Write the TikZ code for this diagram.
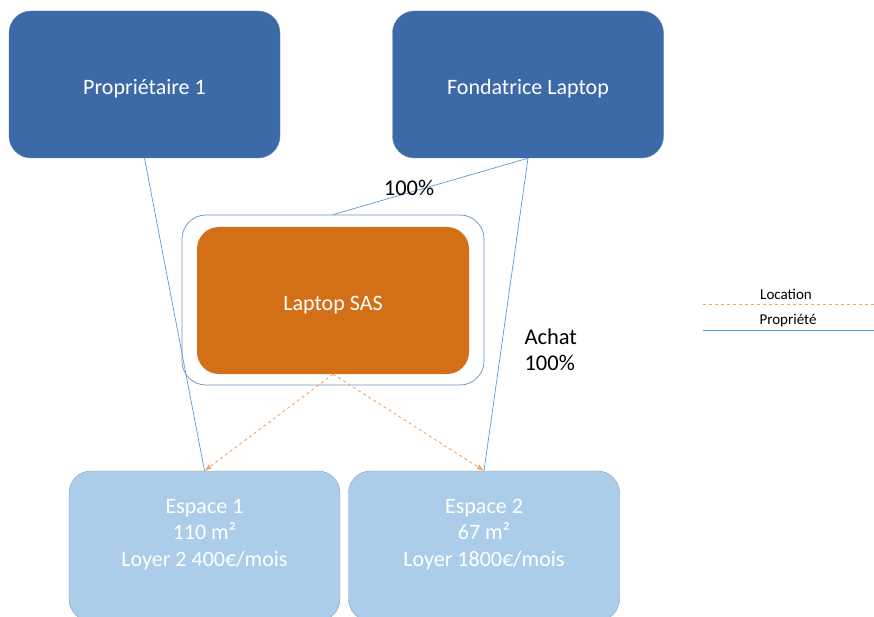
\documentclass[tikz,border=0pt]{standalone}
\usepackage{fontspec}
\setmainfont{Carlito}
\usepackage{tikz}
\usetikzlibrary{arrows.meta}
\usetikzlibrary{positioning}
\definecolor{darkblue}{HTML}{3C69A7}
\definecolor{sasorange}{HTML}{D36F17}
\definecolor{lightblue}{HTML}{ABCDEA}
\definecolor{lightedge}{HTML}{7BA2C8}
\definecolor{lineblue}{HTML}{5B9BD5}
\definecolor{dashorange}{HTML}{F5A263}
\tikzset{>=Latex}
\tikzstyle{owner} = [rectangle, rounded corners=22pt, fill=darkblue, draw=darkblue!80, minimum width=271, minimum height=147, text=white, text height=21pt, text depth=0pt, font=\fontsize{22}{26}\selectfont]
\tikzstyle{space} = [rectangle, rounded corners=22pt, fill=lightblue, draw=lightedge, minimum width=271, minimum height=150, text=white, align=center, font=\fontsize{22}{26.5}\selectfont]
\tikzstyle{prop} = [-, draw=lineblue, line width=0.7pt]
\tikzstyle{loc} = [->, draw=dashorange, dashed, line width=0.9pt]

\begin{document}
\begin{tikzpicture}[x=1pt, y=-1pt]
\useasboundingbox (0,0) rectangle (874,617);
\node [owner] (P1) at (144.5, 84.5) {Propriétaire 1};
\node [owner] (FL) at (528, 84.5) {Fondatrice Laptop};
\node [rectangle, rounded corners=24pt, draw=lightedge!70!darkblue, line width=0.7pt, minimum width=302, minimum height=170] (frame) at (333, 300) {};
\node [rectangle, rounded corners=22pt, fill=sasorange, minimum width=272, minimum height=147, text=white, text height=20pt, text depth=0pt, font=\fontsize{22}{26}\selectfont] (SAS) at (333, 300.5) {Laptop SAS};
\node [space] (E1) at (204.5, 546) {Espace 1\\110 m²\\Loyer 2 400€/mois\\ \mbox{}};
\node [space] (E2) at (484, 546) {Espace 2\\67 m²\\Loyer 1800€/mois\\ \mbox{}};
\draw [prop] (P1.south) to (E1.north);
\draw [prop] (FL.south) to (E2.north);
\draw [prop] (FL.south) to (frame.north);
\draw [loc] (SAS.south) to (E1.north);
\draw [loc] (SAS.south) to (E2.north);
\node [font=\fontsize{22.5}{26}\selectfont] (pct) at (409, 188) {100\%};
\node [font=\fontsize{22.5}{26}\selectfont, align=left, anchor=west] (achat) at (521, 350) {Achat\\100\%};
% legend
\coordinate (locA) at (703, 304);
\coordinate (locB) at (874, 304);
\coordinate (propA) at (703, 330);
\coordinate (propB) at (874, 330);
\draw [draw=dashorange, dashed, line width=0.8pt] (locA) to (locB);
\draw [prop] (propA) to (propB);
\node [font=\fontsize{15}{18}\selectfont] (loclab) at (786, 294) {Location};
\node [font=\fontsize{15}{18}\selectfont] (proplab) at (788, 321) {Propriété};
\end{tikzpicture}
\end{document}
